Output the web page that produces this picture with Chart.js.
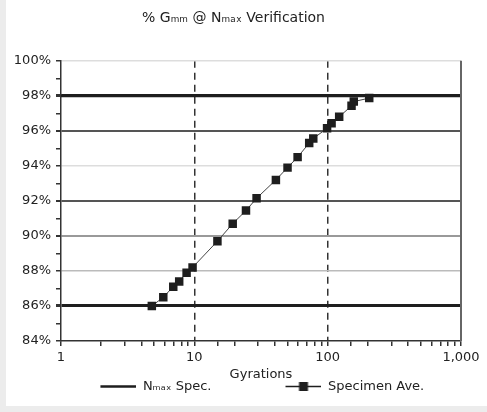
<!DOCTYPE html>
<html>
<head>
<meta charset="utf-8">
<script src="https://cdn.jsdelivr.net/npm/chart.js@4"></script>
<style>
    html, body { margin: 0; padding: 0; background: #ececec; }
    #wrap { position: absolute; left: 6px; top: 0; width: 481px; height: 406px; background: #fff; }
</style>
</head>
<body>
<div id="wrap"><canvas id="gmmChart" width="481" height="406"></canvas></div>
<script>
// Datos
const chartTitle = '% Gₘₘ @ Nₘₐₓ Verification';
const specLabel = 'Nₘₐₓ Spec.';
const specimenLabel = 'Specimen Ave.';

const specX = [1, 1000];
const specY = [98, 98];

const gyrations = [4.8, 5.85, 6.95, 7.7, 8.75, 9.7, 14.9, 19.4, 24.4, 29.3, 40.9, 50, 59.5, 72.7, 78, 99, 107, 122, 151, 157, 205];
const gmmPercent = [86.0, 86.5, 87.1, 87.4, 87.9, 88.2, 89.7, 90.7, 91.45, 92.15, 93.2, 93.9, 94.5, 95.3, 95.56, 96.15, 96.44, 96.8, 97.43, 97.67, 97.87];

const xTickLabels = ['1', '10', '100', '1,000'];
const yTickLabels = ['84%', '86%', '88%', '90%', '92%', '94%', '96%', '98%', '100%'];

const FONT = "'DejaVu Sans', sans-serif";
const FS = 13;
const TEXT = '#222';

// colores de las lineas horizontales (como en la imagen)
function yGridColor(v) {
    if (v === 98 || v === 86) return '#1e1e1e';
    if (v === 96 || v === 92) return '#555';
    if (v === 90) return '#999';
    if (v === 88) return '#bbb';
    if (v === 94 || v === 100) return '#ddd';
    return 'rgba(0,0,0,0)';
}
function yGridWidth(v) {
    if (v === 98 || v === 86) return 3;
    if (v === 96 || v === 92 || v === 90) return 2;
    return 1.5;
}

// ancho del simbolo de la leyenda para separar las dos entradas
const meas = document.createElement('canvas').getContext('2d');
meas.font = FS + 'px ' + FONT;
const t1 = meas.measureText(specLabel).width;
const t2 = meas.measureText(specimenLabel).width;
const spaceW = meas.measureText(' ').width;
const LEG_PAD = 4;
const BOX_W = Math.round(185 - FS / 2 - LEG_PAD - t1);
const tailSpaces = Math.max(0, Math.round((178 - t1 - t2) / spaceW));

function legendIcon(withMarker) {
    const c = document.createElement('canvas');
    c.width = BOX_W; c.height = 13;
    const g = c.getContext('2d');
    const x0 = BOX_W - 36;
    g.strokeStyle = '#1e1e1e';
    g.lineWidth = withMarker ? 1.5 : 2.5;
    g.beginPath(); g.moveTo(x0, 6.5); g.lineTo(BOX_W, 6.5); g.stroke();
    if (withMarker) {
        g.fillStyle = '#1e1e1e';
        g.fillRect(x0 + 13.5, 2, 9, 9);
    }
    return c;
}

const frame = {
    id: 'frame',
    afterDraw(chart) {
        const { ctx, chartArea: a } = chart;
        ctx.save();
        ctx.strokeStyle = '#666';
        ctx.lineWidth = 2;
        ctx.beginPath();
        ctx.moveTo(a.right, a.top);
        ctx.lineTo(a.right, a.bottom);
        ctx.stroke();
        ctx.restore();
    }
};

const ctx = document.getElementById('gmmChart').getContext('2d');
new Chart(ctx, {
    type: 'scatter',
    data: {
        datasets: [
            {
                label: specLabel,
                data: specX.map((x, i) => ({ x: x, y: specY[i] })),
                showLine: true,
                borderColor: '#1e1e1e',
                borderWidth: 3,
                pointRadius: 0,
                order: 2
            },
            {
                label: specimenLabel,
                data: gyrations.map((x, i) => ({ x: x, y: gmmPercent[i] })),
                showLine: true,
                borderColor: '#444',
                borderWidth: 1,
                pointStyle: 'rect',
                pointRadius: 6,
                pointBackgroundColor: '#1e1e1e',
                pointBorderColor: '#1e1e1e',
                pointBorderWidth: 0,
                order: 1
            }
        ]
    },
    options: {
        responsive: false,
        animation: false,
        layout: { padding: { left: 0, right: 26, top: 4, bottom: 3 } },
        plugins: {
            title: {
                display: true,
                text: chartTitle,
                color: TEXT,
                font: { family: FONT, size: 14, weight: 'normal' },
                padding: { top: 6, bottom: 34 }
            },
            legend: {
                position: 'bottom',
                labels: {
                    color: TEXT,
                    font: { family: FONT, size: FS },
                    usePointStyle: true,
                    pointStyleWidth: BOX_W,
                    padding: LEG_PAD,
                    generateLabels: (chart) => chart.data.datasets.map((ds, i) => ({
                        text: i === 1 ? ds.label + ' '.repeat(tailSpaces) : ds.label,
                        datasetIndex: i,
                        pointStyle: legendIcon(i === 1),
                        fontColor: TEXT,
                        lineWidth: 0,
                        strokeStyle: 'rgba(0,0,0,0)',
                        fillStyle: 'rgba(0,0,0,0)'
                    }))
                }
            },
            tooltip: { enabled: false }
        },
        scales: {
            x: {
                type: 'logarithmic',
                min: 1,
                max: 1000,
                afterFit: (s) => { s.height = 35; },
                title: {
                    display: true,
                    text: 'Gyrations',
                    color: TEXT,
                    font: { family: FONT, size: FS },
                    padding: { top: 0, bottom: -6 }
                },
                ticks: {
                    autoSkip: false,
                    maxRotation: 0,
                    color: TEXT,
                    font: { family: FONT, size: FS },
                    padding: 4,
                    callback: function (value) {
                        const p = Math.log10(value);
                        if (Math.abs(p - Math.round(p)) < 1e-9) return xTickLabels[Math.round(p)];
                        return '';
                    }
                },
                grid: {
                    color: (c) => (c.tick && (c.tick.value === 10 || c.tick.value === 100)) ? '#333' : 'rgba(0,0,0,0)',
                    lineWidth: 1.5,
                    tickColor: '#333',
                    tickLength: 5
                },
                border: { display: true, color: '#333', width: 1.5, dash: [7, 5] }
            },
            y: {
                min: 84,
                max: 100,
                afterFit: (s) => { s.width = 55; },
                ticks: {
                    stepSize: 1,
                    autoSkip: false,
                    color: TEXT,
                    font: { family: FONT, size: FS },
                    padding: 5,
                    callback: (value) => value % 2 === 0 ? yTickLabels[(value - 84) / 2] : ''
                },
                grid: {
                    color: (c) => c.tick ? yGridColor(c.tick.value) : 'rgba(0,0,0,0)',
                    lineWidth: (c) => c.tick ? yGridWidth(c.tick.value) : 1,
                    tickColor: '#333',
                    tickLength: 5
                },
                border: { display: true, color: '#333', width: 1.5 }
            }
        }
    },
    plugins: [frame]
});
</script>
</body>
</html>
